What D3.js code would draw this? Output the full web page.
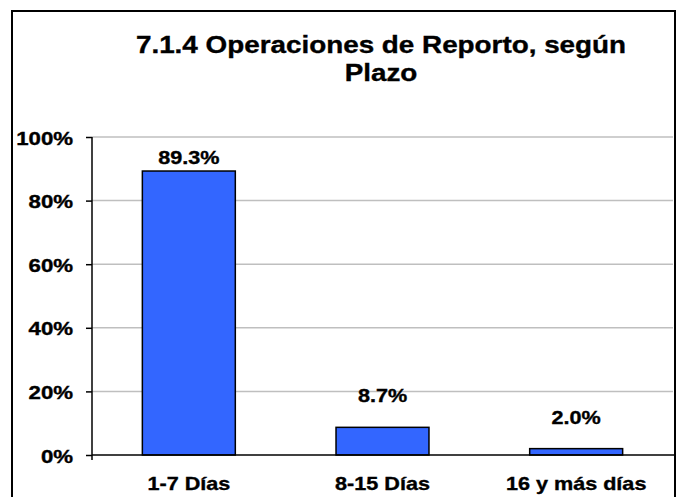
<!DOCTYPE html>
<html>
<head>
<meta charset="utf-8">
<script src="https://cdn.jsdelivr.net/npm/d3@7"></script>
<style>
  html, body { margin: 0; padding: 0; background: #fff; }
  svg { display: block; }
  text { font-family: "Liberation Sans", Arial, sans-serif; font-weight: bold; fill: #000; stroke: #000; stroke-width: 0.35px; }
</style>
</head>
<body>
<svg id="chart" width="680" height="497"></svg>
<script>
// Reporto operations by term, share of total
const categories = ["1-7 Días", "8-15 Días", "16 y más días"];
const values = [89.3, 8.7, 2.0];
const yTicks = [0, 20, 40, 60, 80, 100];
const titleLines = ["7.1.4 Operaciones de Reporto, según", "Plazo"];

const plot = { left: 92, right: 673, top: 137, bottom: 455 };
const stretch = 1.2; // wide lettering of the original chart style

const svg = d3.select("#chart");

// outer frame
svg.append("rect")
  .attr("x", 12).attr("y", 11)
  .attr("width", 663).attr("height", 520)
  .attr("fill", "#fff").attr("stroke", "#000").attr("stroke-width", 2);

const x = d3.scaleBand()
  .domain(categories)
  .range([plot.left, plot.right])
  .paddingInner(0.52)
  .paddingOuter(0.26);

const y = d3.scaleLinear()
  .domain([0, 100])
  .range([plot.bottom, plot.top]);

// title
titleLines.forEach((t, i) => {
  svg.append("text")
    .attr("transform", `translate(381,${53 + i * 28}) scale(${stretch},1)`)
    .attr("font-size", 23.2)
    .attr("text-anchor", "middle")
    .text(t);
});

// gridlines
svg.append("g")
  .selectAll("line")
  .data(yTicks.filter(d => d > 0))
  .join("line")
  .attr("x1", plot.left).attr("x2", plot.right)
  .attr("y1", d => y(d)).attr("y2", d => y(d))
  .attr("stroke", "#bfbfbf").attr("stroke-width", 1.5);

// y axis
const yAxis = d3.axisLeft(y)
  .tickValues(yTicks)
  .tickSize(6)
  .tickFormat(d => d + "%");
const gy = svg.append("g")
  .attr("transform", `translate(${plot.left},0)`)
  .call(yAxis);
gy.select(".domain").remove();
gy.selectAll(".tick line").attr("stroke", "#000").attr("stroke-width", 1.5);
gy.selectAll(".tick text").remove();
gy.selectAll(".tick").each(function(d) {
  d3.select(this).append("text")
    .attr("transform", `translate(-19,7) scale(1.27,1)`)
    .attr("font-size", 17.5)
    .attr("text-anchor", "end")
    .text(d + "%");
});
svg.append("line")
  .attr("x1", plot.left).attr("x2", plot.left)
  .attr("y1", plot.top).attr("y2", plot.bottom + 5)
  .attr("stroke", "#000").attr("stroke-width", 1.5);

// bars
svg.append("g")
  .selectAll("rect")
  .data(values)
  .join("rect")
  .attr("x", (d, i) => x(categories[i]))
  .attr("y", d => y(d))
  .attr("width", x.bandwidth())
  .attr("height", d => y(0) - y(d))
  .attr("fill", "#3366ff")
  .attr("stroke", "#000")
  .attr("stroke-width", 1.5);

// x axis baseline
svg.append("line")
  .attr("x1", plot.left).attr("x2", plot.right + 2)
  .attr("y1", plot.bottom).attr("y2", plot.bottom)
  .attr("stroke", "#000").attr("stroke-width", 1.5);

// value labels, kept inside the plot area
svg.append("g")
  .selectAll("text")
  .data(values)
  .join("text")
  .attr("transform", (d, i) => {
    const cx = x(categories[i]) + x.bandwidth() / 2;
    const by = Math.max(y(d) - 25, plot.top + 27);
    return `translate(${cx},${by}) scale(${stretch},1)`;
  })
  .attr("font-size", 18)
  .attr("text-anchor", "middle")
  .text(d => d.toFixed(1) + "%");

// category labels
svg.append("g")
  .selectAll("text")
  .data(categories)
  .join("text")
  .attr("transform", d => `translate(${x(d) + x.bandwidth() / 2},490) scale(${stretch},1)`)
  .attr("font-size", 18)
  .attr("text-anchor", "middle")
  .text(d => d);
</script>
</body>
</html>
